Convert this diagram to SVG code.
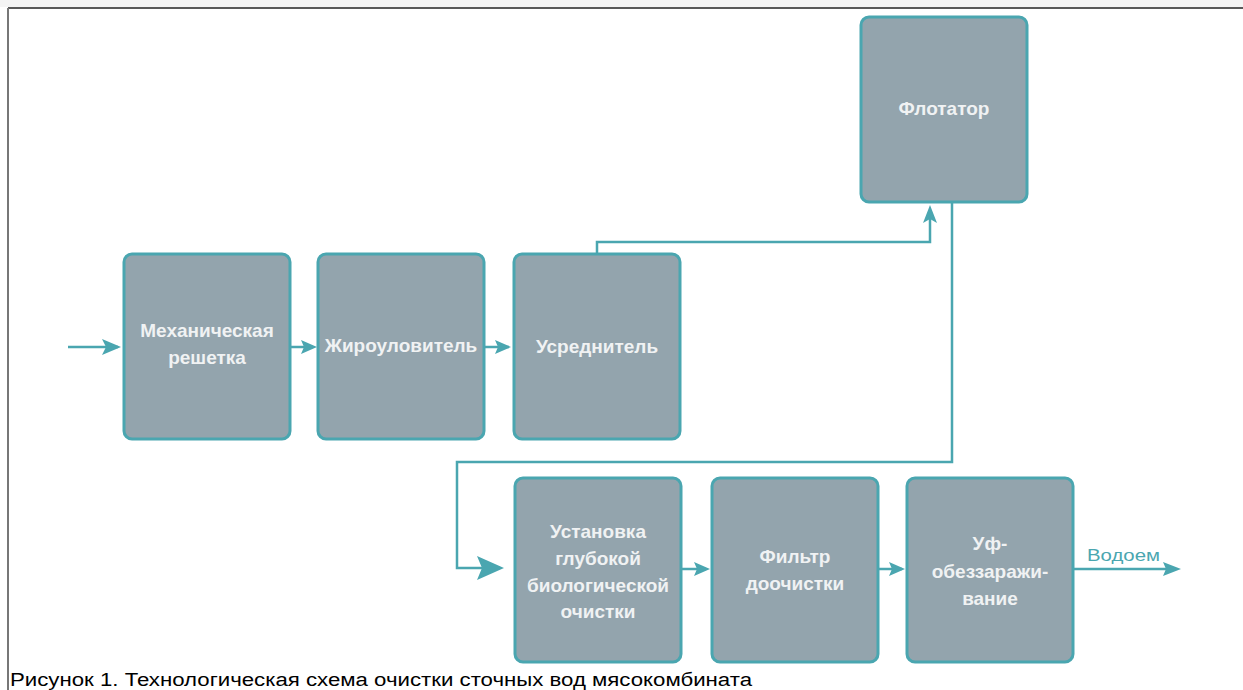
<svg xmlns="http://www.w3.org/2000/svg" width="1243" height="690" viewBox="0 0 1243 690">
<style>
.box{fill:#93a4ad;stroke:#4aa6b0;stroke-width:3}
.lbl{font-family:"Liberation Sans",Arial,sans-serif;font-weight:bold;font-size:19px;fill:#f0f2f3;text-anchor:middle}
.ln{fill:none;stroke:#4aa6b0;stroke-width:2.5}
.ah{fill:#4aa6b0}
.cap{font-family:"Liberation Sans",Arial,sans-serif;font-size:18px;fill:#000}
</style>
<rect width="1243" height="690" fill="#fff"/>
<g id="frame">
<rect x="0" y="0" width="1243" height="7" fill="#f4f4f4"/>
<line x1="8" y1="8" x2="1243" y2="8" stroke="#222" stroke-width="1.5"/>
<line x1="8" y1="8" x2="8" y2="690" stroke="#777" stroke-width="2"/>
</g>
<g id="connectors">
<path class="ln" d="M68,347 H118"/>
<path class="ah" d="M102,339 L121,347 L102,355 L106,347 z"/>
<path class="ln" d="M291,347 H313"/>
<path class="ah" d="M301,340 L317,347 L301,354 L304,347 z"/>
<path class="ln" d="M485,347 H509"/>
<path class="ah" d="M495,340 L511,347 L495,354 L498,347 z"/>
<path class="ln" d="M597,253 V242 H930 V212"/>
<path class="ah" d="M923,223 L930,205 L937,223 L930,219 z"/>
<path class="ln" d="M952,203 V462 H457 V568 H500" stroke-width="3"/>
<path class="ah" d="M477,556 L504,568 L477,580 L482,568 z"/>
<path class="ln" d="M682,569 H706"/>
<path class="ah" d="M694,562 L710,569 L694,576 L697,569 z"/>
<path class="ln" d="M879,569 H902"/>
<path class="ah" d="M889,562 L905,569 L889,576 L892,569 z"/>
<path class="ln" d="M1074,569 H1176"/>
<path class="ah" d="M1163,562 L1181,569 L1163,576 L1166,569 z"/>
<text x="1087" y="561" font-family="Liberation Sans,Arial,sans-serif" font-size="17" fill="#4aa6b0" textLength="73" lengthAdjust="spacingAndGlyphs">Водоем</text>
</g>
<g id="n1"><rect class="box" x="124" y="254" width="166" height="185" rx="8"/>
<text class="lbl" x="207" y="337">Механическая</text><text class="lbl" x="207" y="364">решетка</text></g>
<g id="n2"><rect class="box" x="318" y="254" width="166" height="185" rx="8"/>
<text class="lbl" x="401" y="352">Жироуловитель</text></g>
<g id="n3"><rect class="box" x="514" y="254" width="166" height="185" rx="8"/>
<text class="lbl" x="597" y="353">Усреднитель</text></g>
<g id="n4"><rect class="box" x="861" y="17" width="166" height="185" rx="8"/>
<text class="lbl" x="944" y="115">Флотатор</text></g>
<g id="n5"><rect class="box" x="515" y="478" width="166" height="184" rx="8"/>
<text class="lbl" x="598" y="538">Установка</text><text class="lbl" x="598" y="565">глубокой</text><text class="lbl" x="598" y="592">биологической</text><text class="lbl" x="598" y="618">очистки</text></g>
<g id="n6"><rect class="box" x="712" y="478" width="166" height="184" rx="8"/>
<text class="lbl" x="795" y="563">Фильтр</text><text class="lbl" x="795" y="590">доочистки</text></g>
<g id="n7"><rect class="box" x="907" y="478" width="166" height="184" rx="8"/>
<text class="lbl" x="990" y="550">Уф-</text><text class="lbl" x="990" y="578">обеззаражи-</text><text class="lbl" x="990" y="605">вание</text></g>
<text class="cap" x="10" y="686" textLength="742" lengthAdjust="spacingAndGlyphs">Рисунок 1. Технологическая схема очистки сточных вод мясокомбината</text>
</svg>
